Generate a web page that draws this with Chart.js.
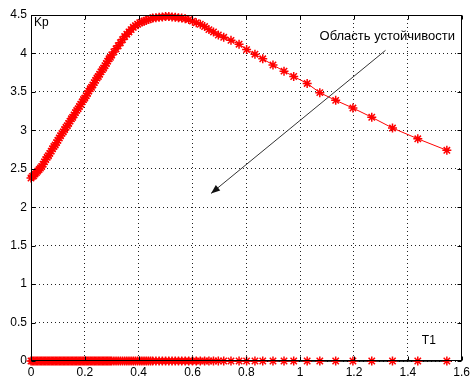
<!DOCTYPE html>
<html>
<head>
<meta charset="utf-8">
<script src="https://cdn.jsdelivr.net/npm/chart.js@4.4.1/dist/chart.umd.min.js"></script>
<style>
  html, body { margin: 0; padding: 0; background: #fff; }
  #wrap { width: 474px; height: 377px; }
</style>
</head>
<body>
<div id="wrap"><canvas id="kp_chart"></canvas></div>
<script>
// T1 values (x)
const T1 = [
  0, 0.005, 0.01, 0.015, 0.02, 0.025, 0.03, 0.035, 0.04, 0.045,
  0.05, 0.055, 0.06, 0.065, 0.07, 0.075, 0.08, 0.085, 0.09, 0.095,
  0.1, 0.105, 0.11, 0.115, 0.12, 0.125, 0.13, 0.135, 0.14, 0.145,
  0.15, 0.155, 0.16, 0.165, 0.17, 0.175, 0.18, 0.185, 0.19, 0.195,
  0.2, 0.205, 0.21, 0.215, 0.22, 0.225, 0.23, 0.235, 0.24, 0.245,
  0.25, 0.255, 0.26, 0.265, 0.27, 0.275, 0.28, 0.285, 0.29, 0.295,
  0.3, 0.308, 0.316, 0.324, 0.332, 0.34, 0.348, 0.356, 0.364, 0.372,
  0.38, 0.388, 0.396, 0.404, 0.412, 0.42, 0.428, 0.436, 0.444, 0.452,
  0.464, 0.476, 0.488, 0.5, 0.512, 0.524, 0.536, 0.548, 0.56, 0.573,
  0.586, 0.6, 0.614, 0.629, 0.645, 0.661, 0.678, 0.696, 0.716,
  0.743, 0.773, 0.801, 0.832, 0.861, 0.899, 0.94, 0.976, 1.026, 1.073,
  1.132, 1.196, 1.266, 1.343, 1.437, 1.545
];
// Kp values (y) for each T1
const Kp = [
  2.38, 2.40, 2.41, 2.43, 2.45, 2.47, 2.49, 2.51, 2.53, 2.56,
  2.59, 2.62, 2.65, 2.67, 2.70, 2.73, 2.76, 2.79, 2.81, 2.84,
  2.87, 2.90, 2.93, 2.96, 2.98, 3.01, 3.04, 3.06, 3.09, 3.12,
  3.15, 3.17, 3.20, 3.23, 3.26, 3.28, 3.31, 3.34, 3.37, 3.40,
  3.42, 3.45, 3.48, 3.51, 3.54, 3.56, 3.59, 3.62, 3.65, 3.68,
  3.70, 3.73, 3.76, 3.79, 3.81, 3.84, 3.87, 3.90, 3.93, 3.95,
  3.98, 4.02, 4.06, 4.10, 4.14, 4.18, 4.22, 4.25, 4.28, 4.31,
  4.34, 4.36, 4.38, 4.40, 4.41, 4.42, 4.43, 4.44, 4.45, 4.46,
  4.465, 4.47, 4.475, 4.48, 4.48, 4.475, 4.47, 4.465, 4.46, 4.45,
  4.44, 4.42, 4.40, 4.38, 4.35, 4.31, 4.28, 4.24, 4.21,
  4.17, 4.12, 4.05, 3.99, 3.93, 3.85, 3.77, 3.70, 3.61, 3.49,
  3.39, 3.29, 3.17, 3.03, 2.89, 2.74
];
const zeroLevel = 0;

const xTicks = [0, 0.2, 0.4, 0.6, 0.8, 1, 1.2, 1.4, 1.6];
const yTicks = [0, 0.5, 1, 1.5, 2, 2.5, 3, 3.5, 4, 4.5];

// annotation text and arrow (data coords)
const regionLabel = "Область устойчивости";
const regionLabelAt = [1.072, 4.17];
const arrowFrom = [1.317, 4.04];
const arrowTo = [0.669, 2.18];
const yName = "Kp";
const yNameAt = [0.011, 4.36];
const xName = "T1";
const xNameAt = [1.452, 0.22];

const FONT = "'Liberation Sans', Arial, sans-serif";

// box, inner ticks, texts and arrow like the matlab figure
const framePlugin = {
    id: 'frame',
    afterDatasetsDraw(chart) {
        const ctx = chart.ctx;
        const a = chart.chartArea;
        const xs = chart.scales.x, ys = chart.scales.y;
        const L = Math.round(a.left) + 0.5, R = Math.round(a.right) - 0.5;
        const T = Math.round(a.top) + 0.5, B = Math.round(a.bottom) - 0.5;
        ctx.save();
        ctx.strokeStyle = '#000';
        ctx.lineWidth = 1;
        ctx.strokeRect(L, T, R - L, B - T);
        ctx.beginPath();
        xTicks.forEach(v => {
            const p = Math.round(xs.getPixelForValue(v)) + 0.5;
            ctx.moveTo(p, B); ctx.lineTo(p, B - 4);
            ctx.moveTo(p, T); ctx.lineTo(p, T + 4);
        });
        yTicks.forEach(v => {
            const p = Math.round(ys.getPixelForValue(v)) + 0.5;
            ctx.moveTo(L, p); ctx.lineTo(L + 4, p);
            ctx.moveTo(R, p); ctx.lineTo(R - 4, p);
        });
        ctx.stroke();

        // arrow
        const x1 = xs.getPixelForValue(arrowFrom[0]), y1 = ys.getPixelForValue(arrowFrom[1]);
        const x2 = xs.getPixelForValue(arrowTo[0]), y2 = ys.getPixelForValue(arrowTo[1]);
        ctx.strokeStyle = '#333';
        ctx.beginPath();
        ctx.moveTo(x1, y1); ctx.lineTo(x2, y2);
        ctx.stroke();
        const ang = Math.atan2(y2 - y1, x2 - x1);
        const hl = 9, hw = 3.5;
        ctx.fillStyle = '#111';
        ctx.beginPath();
        ctx.moveTo(x2, y2);
        ctx.lineTo(x2 - hl * Math.cos(ang) + hw * Math.sin(ang), y2 - hl * Math.sin(ang) - hw * Math.cos(ang));
        ctx.lineTo(x2 - hl * Math.cos(ang) - hw * Math.sin(ang), y2 - hl * Math.sin(ang) + hw * Math.cos(ang));
        ctx.closePath();
        ctx.fill();

        // texts
        ctx.fillStyle = '#000';
        ctx.textBaseline = 'alphabetic';
        ctx.textAlign = 'left';
        ctx.font = '12px ' + FONT;
        ctx.fillText(yName, xs.getPixelForValue(yNameAt[0]), ys.getPixelForValue(yNameAt[1]));
        ctx.fillText(xName, xs.getPixelForValue(xNameAt[0]), ys.getPixelForValue(xNameAt[1]));
        ctx.font = '13px ' + FONT;
        ctx.fillText(regionLabel, xs.getPixelForValue(regionLabelAt[0]), ys.getPixelForValue(regionLabelAt[1]));
        ctx.restore();
    }
};

const fmt = v => String(Number(v.toFixed(1)));

new Chart(document.getElementById('kp_chart'), {
    type: 'line',
    data: {
        datasets: [
            {
                label: 'Kp(T1)',
                data: T1.map((t, i) => ({ x: t, y: Kp[i] })),
                borderColor: '#ff0000',
                borderWidth: 1,
                pointStyle: 'star',
                pointRadius: 4.5,
                pointBorderWidth: 1.5,
                pointBorderColor: '#ff0000',
                pointBackgroundColor: '#ff0000',
                tension: 0,
                clip: false
            },
            {
                label: 'zero',
                data: T1.map(t => ({ x: t, y: zeroLevel })),
                borderColor: '#000',
                borderWidth: 1.5,
                pointStyle: 'star',
                pointRadius: 4.5,
                pointBorderWidth: 1.5,
                pointBorderColor: '#ff0000',
                pointBackgroundColor: '#ff0000',
                clip: false
            }
        ]
    },
    options: {
        responsive: true,
        maintainAspectRatio: false,
        animation: false,
        layout: { padding: { left: 0, right: 9, top: 15, bottom: 0 } },
        plugins: { legend: { display: false }, tooltip: { enabled: false } },
        scales: {
            x: {
                type: 'linear',
                min: 0, max: 1.6,
                afterBuildTicks: s => { s.ticks = xTicks.map(v => ({ value: v })); },
                afterFit: s => { s.height = 16; },
                grid: { color: '#222', lineWidth: 1, drawTicks: false },
                border: { display: false, dash: [1, 3] },
                ticks: { color: '#000', padding: 4, maxRotation: 0, font: { family: FONT, size: 12 }, callback: fmt }
            },
            y: {
                min: 0, max: 4.5,
                afterBuildTicks: s => { s.ticks = yTicks.map(v => ({ value: v })); },
                afterFit: s => { s.width = 31; },
                grid: { color: '#222', lineWidth: 1, drawTicks: false },
                border: { display: false, dash: [1, 3] },
                ticks: { color: '#000', padding: 4, font: { family: FONT, size: 12 }, callback: fmt }
            }
        }
    },
    plugins: [framePlugin]
});
</script>
</body>
</html>
